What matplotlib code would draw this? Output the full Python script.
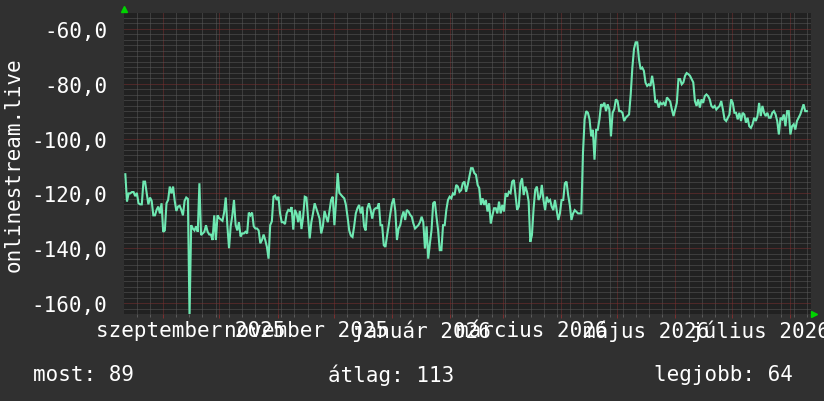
import matplotlib
matplotlib.use("Agg")
import matplotlib.pyplot as plt
import matplotlib.dates as mdates
from matplotlib.ticker import NullFormatter, FixedLocator
import numpy as np
import pandas as pd

# ---------------- data ----------------
values = [
    # Aug - Sep 2025
    -113, -123, -120, -120, -119.5, -119.5, -121, -119.8, -123.6, -124, -124, -115.7, -115.7, -120,
    -124, -121.5, -122.7, -128, -128, -126, -124.8, -127.3, -123.6, -134, -133.5, -123.6, -122.4,
    -117.5, -120, -117.5, -122.7, -126.4, -124.8, -124.5, -126, -128, -122.7, -121.5, -122, -165,
    -131.6, -132.8, -133.5, -132, -134, -116.3, -135.2, -134.6, -134, -131.6, -134, -135, -135, -137,
    -128, -137, -128, -129, -129.5, -130, -127, -121.5, -132, -140, -132, -128, -122.4, -131.5,
    -133.5, -130.5, -135.7, -134.6, -134.6, -134, -134.6, -127, -128, -127, -132, -132.8, -132.8,
    -133.5, -138.2,
    # Oct - Dec 2025
    -137, -135, -137, -139.5, -143.8, -131.6, -130.2, -121.2, -120.8, -122.4, -121.2, -127.3, -130.5,
    -130.5, -131.2, -127.3, -126, -126.4, -125, -133.2, -126, -127.3, -130.5, -126.4, -133, -128.6,
    -121.2, -121.5, -129.2, -136.4, -130.5, -127.3, -123.6, -125.4, -127.3, -129.2, -134.6, -132,
    -126.4, -128.6, -130.5, -126.4, -122.4, -121.2, -131.6, -123, -112.6, -119.8, -120.5, -121.2,
    -121.8, -124.2, -128.6, -133.5, -135.4, -135.9, -132, -127.3, -125.4, -124.2, -127.3, -124.8,
    -132, -133.5, -125.4, -123.6, -126, -129.2, -126, -125.4, -125.4, -123.6, -131.6, -131.6, -138.9,
    -139.5, -135.4, -131.6, -127.3, -123.6, -121.8, -126.4, -137, -132.8,
    # Dec 2025 - Feb 2026
    -131.6, -128.5, -126.6, -129.7, -126, -126.6, -127.8, -128.5, -131, -132.8, -132.2, -131.6,
    -130.5, -128.5, -130.5, -140.1, -132, -143.8, -138.3, -133.4, -123.6, -123, -128.5, -133.4,
    -140.7, -140.7, -131.6, -131.6, -126, -122.4, -121.2, -121.8, -120, -120.6, -116.9, -117.5,
    -119.4, -118.8, -116.3, -115.7, -119.4, -116.9, -113.8, -110.8, -110.8, -112.6, -113.2, -116.9,
    -118.1, -124.2, -121.8, -124.2, -122.4, -126.6, -123.6, -131, -128, -125.4, -125.4, -127.3, -123,
    -127.3, -124.2, -126.6, -119.9, -121.2, -119.4, -119.9, -115.7, -115.1, -120.6, -126, -124.8,
    -116.3, -114.5, -120.6, -117.5, -119.4, -123, -137.7, -135.2,
    # Mar - May 2026
    -125.5, -118.7, -117.5, -122.4, -121.2, -116.9, -122.4, -126.1, -121.2, -123, -122.4, -124.8,
    -126.1, -122.4, -126.1, -129.7, -127.3, -122.4, -122.4, -116.3, -115.7, -120.6, -124.2, -129.7,
    -127.3, -126.1, -126.7, -127.3, -127.3, -127.3, -105.2, -93, -90, -90.6, -93, -99.2, -96.8,
    -107.7, -96.8, -96.8, -93, -87.5, -88.1, -86.9, -90, -87.5, -89.3, -99.2, -90.6, -89.3, -85.7,
    -86.3, -90, -90, -90.6, -93.6, -92.4, -91.8, -91.2, -83.9, -74.1, -67.3, -64.9, -64.9, -71,
    -74.7, -74.1, -75.3, -79.6, -80.8, -80.2, -80.8, -77.1, -80.8, -86.9, -86.3, -88.7, -86.9, -87.5,
    -86.9, -88.1, -85,
    # May - Aug 2026
    -85.7, -86.5, -89.4, -91.8, -89.4, -87, -78.3, -78.3, -80.2, -79.5, -77.1, -76.1, -76.5, -77.1,
    -78.3, -79.5, -86.3, -88.1, -85.7, -88.7, -85.7, -87, -84.5, -83.9, -84.5, -85.7, -88.1, -88.7,
    -88.1, -89.4, -88.7, -88.1, -86.3, -89.4, -93, -93.6, -92.4, -91.2, -85.7, -87, -90.6, -90.6,
    -93, -90.6, -93.6, -90.6, -91.2, -94.2, -92.4, -95.5, -96.1, -94.8, -92.4, -93.6, -91.8, -87,
    -91.8, -88.1, -90.6, -91.8, -90.6, -92.4, -92.4, -90.6, -90, -91.2, -93.6, -98.5, -92.4, -93,
    -91.2, -95.5, -90, -90, -98.5, -95.5, -94.8, -96.7, -93.6, -92.4, -91.2, -89.4, -87.5, -90, -90,
]
data_start = "2025-08-11 22:00"
data_end = "2026-08-10 00:00"
x_range = ("2025-08-11 05:00", "2026-08-12 05:00")
y_range = (-163.8, -54.2)
y_ticks = [-60, -80, -100, -120, -140, -160]
y_tick_labels = ["-60,0", "-80,0", "-100,0", "-120,0", "-140,0", "-160,0"]
month_label_starts = ["2025-09-01", "2025-11-01", "2026-01-01", "2026-03-01", "2026-05-01", "2026-07-01"]
month_label_ends = ["2025-10-01", "2025-12-01", "2026-02-01", "2026-04-01", "2026-06-01", "2026-08-01"]
month_labels = ["szeptember 2025", "november 2025", "január 2026", "március 2026", "május 2026", "július 2026"]
y_title = "onlinestream.live"
stat_labels = ["most: 89", "átlag: 113", "legjobb: 64"]

# ---------------- style ----------------
W, H = 824, 402
BG = "#303030"
PLOT_BG = "#212121"
MINOR = "#5a5a5a"
MAJOR = "#7c2f2f"
LINE = "#6fe8b2"
ARROW = "#00d400"
FONT = "DejaVu Sans Mono"
FS = 15

plt.rcParams["font.family"] = [FONT, "DejaVu Sans"]

fig = plt.figure(figsize=(W / 100, H / 100), dpi=100, facecolor=BG)
left, right, top, bottom = 124, 811, 14, 314.5
ax = fig.add_axes([left / W, (H - bottom) / H, (right - left) / W, (bottom - top) / H])
ax.set_facecolor(PLOT_BG)

times = pd.date_range(pd.Timestamp(data_start), pd.Timestamp(data_end), periods=len(values))
ax.plot(times, values, color=LINE, lw=1.5, solid_joinstyle="miter", zorder=3)

ax.set_xlim(pd.Timestamp(x_range[0]), pd.Timestamp(x_range[1]))
ax.set_ylim(*y_range)

# x grid: weeks (minor, gray) and months (major, red)
ax.xaxis.set_major_locator(mdates.MonthLocator())
ax.xaxis.set_minor_locator(mdates.WeekdayLocator(byweekday=mdates.MO))
ax.xaxis.set_major_formatter(NullFormatter())
ax.xaxis.set_minor_formatter(NullFormatter())

# y grid
ax.yaxis.set_major_locator(FixedLocator(y_ticks))
ax.set_yticklabels(y_tick_labels)
ax.yaxis.set_minor_locator(FixedLocator(np.arange(-162, -54, 2)))

ax.set_axisbelow(True)
ax.grid(which="minor", color=MINOR, ls=(0, (1, 1)), lw=0.72)
ax.grid(which="major", color=MAJOR, ls=(0, (1, 1)), lw=0.72)

ax.tick_params(axis="y", which="both", length=0, pad=12, labelsize=FS, labelcolor="white")
ax.tick_params(axis="x", which="major", length=3, width=0.72, color=MAJOR, direction="out")
ax.tick_params(axis="x", which="minor", length=2, width=0.72, color=MINOR, direction="out")
for s in ax.spines.values():
    s.set_visible(False)

# month labels centred in the middle of each month
trans = ax.get_xaxis_transform()
for s, e, lab in zip(month_label_starts, month_label_ends, month_labels):
    ts, te = pd.Timestamp(s), pd.Timestamp(e)
    mid = ts + (te - ts) / 2
    ax.text(mid, -16.5 / (bottom - top), lab, transform=trans, ha="center", va="center",
            color="white", fontsize=FS, clip_on=False)

# y title
fig.text(14 / W, 1 - 165 / H, y_title, rotation=90, ha="center", va="center",
         color="white", fontsize=FS)

# stats line
stat_x = [33, 328, 654]
for sx, lab in zip(stat_x, stat_labels):
    fig.text(sx / W, 1 - 375 / H, lab, ha="left", va="center", color="white", fontsize=FS)

# axis arrows
ax.plot([0], [1 + 4 / (bottom - top)], marker="^", ms=5, color=ARROW, mec=ARROW,
        transform=ax.transAxes, clip_on=False)
ax.plot([1 + 3 / (right - left)], [0], marker=">", ms=5, color=ARROW, mec=ARROW,
        transform=ax.transAxes, clip_on=False)

fig.savefig("out.png", dpi=100, facecolor=BG)
